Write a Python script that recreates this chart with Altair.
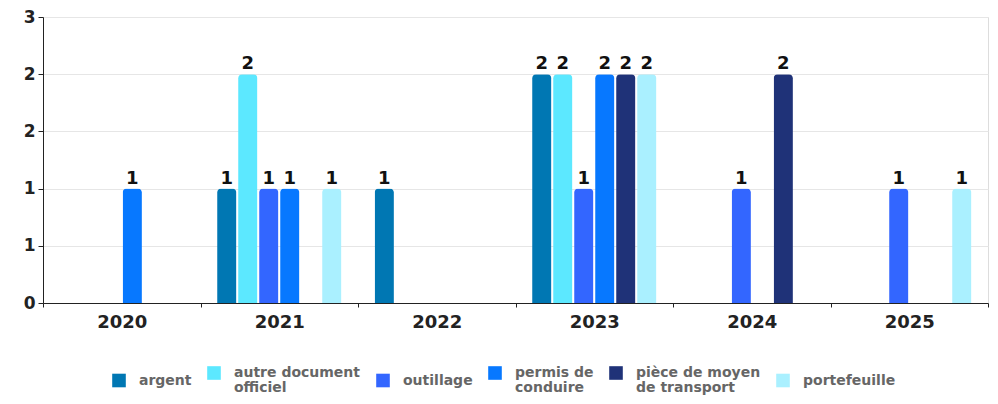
import altair as alt
import pandas as pd

years = ["2020", "2021", "2022", "2023", "2024", "2025"]
categories = ["argent", "autre document officiel", "outillage",
              "permis de conduire", "pièce de moyen de transport", "portefeuille"]
colors = ["#0077b3", "#5ce8ff", "#3366ff", "#0778ff", "#1f3278", "#aaf0ff"]

# counts per category, one value per year (0 = no bar)
argent = [0, 1, 1, 2, 0, 0]
autre_document = [0, 2, 0, 2, 0, 0]
outillage = [0, 1, 0, 1, 1, 1]
permis = [1, 1, 0, 2, 0, 0]
piece = [0, 0, 0, 2, 2, 0]
portefeuille = [0, 1, 0, 2, 0, 1]

series = [argent, autre_document, outillage, permis, piece, portefeuille]

legend_lines = {
    "argent": ["argent"],
    "autre document officiel": ["autre document", "officiel"],
    "outillage": ["outillage"],
    "permis de conduire": ["permis de", "conduire"],
    "pièce de moyen de transport": ["pièce de moyen", "de transport"],
    "portefeuille": ["portefeuille"],
}

rows = []
for cat, vals in zip(categories, series):
    for yr, v in zip(years, vals):
        if v > 0:
            rows.append({"annee": yr, "categorie": cat, "nombre": v})
df = pd.DataFrame(rows)

expr_parts = []
for cat, lines in legend_lines.items():
    arr = "[" + ",".join("'" + l + "'" for l in lines) + "]"
    expr_parts.append(f"datum.label == '{cat}' ? {arr} : ")
label_expr = "".join(expr_parts) + "datum.label"

FONT = "DejaVu Sans"

x = alt.X("annee:N", sort=years, title=None,
          scale=alt.Scale(paddingInner=0, paddingOuter=0),
          axis=alt.Axis(labelAngle=0, tickBand="extent", labelFont=FONT,
                        labelFontWeight="bold", labelFontSize=18,
                        labelColor="#222222", domainColor="#222222",
                        tickColor="#222222", tickSize=4, labelPadding=6,
                        grid=False))
y = alt.Y("nombre:Q", title=None,
          scale=alt.Scale(domain=[0, 2.5], nice=False),
          axis=alt.Axis(values=[0, 0.5, 1, 1.5, 2, 2.5], format=".0f",
                        labelFont=FONT, labelFontWeight="bold",
                        labelFontSize=17, labelColor="#222222",
                        domainColor="#222222", tickColor="#222222",
                        tickSize=5, labelPadding=3, gridColor="#e6e6e6"))
xo = alt.XOffset("categorie:N", sort=categories,
                 scale=alt.Scale(paddingInner=0.08, paddingOuter=0.79))
color = alt.Color("categorie:N", sort=categories,
                  scale=alt.Scale(domain=categories, range=colors),
                  legend=alt.Legend(title=None, orient="none",
                                    direction="horizontal",
                                    legendX=69, legendY=349,
                                    symbolType="square", symbolSize=185,
                                    symbolStrokeWidth=0, symbolOpacity=1,
                                    labelFont=FONT, labelFontWeight="bold",
                                    labelFontSize=14, labelColor="#666666",
                                    labelOffset=13, columnPadding=15,
                                    labelExpr=label_expr, labelLimit=300))

base = alt.Chart(df)
bars = base.mark_bar(cornerRadiusTopLeft=4, cornerRadiusTopRight=4).encode(
    x=x, y=y, xOffset=xo, color=color)
labels = base.mark_text(baseline="bottom", dy=-1, font=FONT, fontWeight="bold",
                        fontSize=18, color="#111111").encode(
    x=x, y=y, xOffset=xo, text=alt.Text("nombre:Q", format=".0f"))

chart = (bars + labels).properties(
    width=945, height=286,
    autosize=alt.AutoSizeParams(type="none"),
    padding={"left": 35, "top": 9, "right": 2, "bottom": 93},
).configure_view(stroke=None).configure(
    background="white",
    style={"guide-label": {"lineHeight": 15}},
)

chart.save("out.html", embed_options={"renderer": "svg", "actions": False})
